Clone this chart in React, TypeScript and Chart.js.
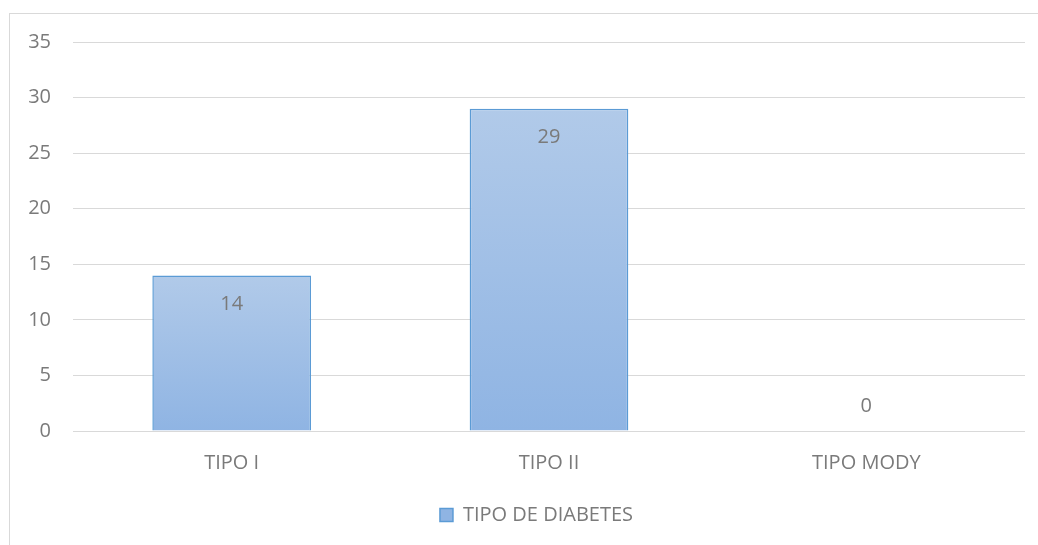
import React, { useEffect, useRef } from "react";
import { Chart, registerables } from "chart.js";

Chart.register(...registerables);

const categories = ["TIPO I", "TIPO II", "TIPO MODY"];
const seriesName = "TIPO DE DIABETES";
const values = [14, 29, 0];
const yTicks = [0, 5, 10, 15, 20, 25, 30, 35];

const FONT = "'Open Sans', 'Liberation Sans', sans-serif";
const TEXT = "#7a7a7a";
const FS = 20;

const frame = {
  id: "frame",
  beforeDraw(chart: any) {
    const c = chart.ctx;
    c.save();
    c.fillStyle = "#ffffff";
    c.fillRect(0, 0, chart.width, chart.height);
    c.strokeStyle = "#d9d9d9";
    c.lineWidth = 1;
    c.strokeRect(9.5, 13.5, 3000, 3000);
    c.restore();
  },
  afterLayout(chart: any) {
    const lg = chart.legend;
    if (lg) {
      lg.left += 24;
      lg.right += 24;
    }
  },
};

const labels = {
  id: "labels",
  afterDatasetsDraw(chart: any) {
    const c = chart.ctx;
    const meta = chart.getDatasetMeta(0);
    c.save();
    c.font = `${FS}px ${FONT}`;
    c.fillStyle = TEXT;
    c.textAlign = "center";
    c.textBaseline = "middle";
    meta.data.forEach((el: any, i: number) => {
      const v = values[i];
      const y = v > 0 ? el.y + 29 : el.base - 25;
      c.fillText(String(v), el.x, y);
    });
    c.restore();
  },
};

export default function App() {
  const ref = useRef<HTMLCanvasElement>(null);
  useEffect(() => {
    document.body.style.margin = "0";
    const chart = new Chart(ref.current!, {
      type: "bar",
      data: {
        labels: categories,
        datasets: [
          {
            label: seriesName,
            data: values,
            backgroundColor: (ctx: any) => {
              const ch = ctx.chart;
              const ys = ch.scales && ch.scales.y;
              if (ctx.raw === undefined || !ys || !ch.chartArea) return "#a3c1e6";
              const top = ys.getPixelForValue(ctx.raw);
              const base = ys.getPixelForValue(0);
              if (!isFinite(top) || !isFinite(base) || top === base) return "#a3c1e6";
              const g = ch.ctx.createLinearGradient(0, top, 0, base);
              g.addColorStop(0, "#b1cae9");
              g.addColorStop(1, "#8fb4e3");
              return g;
            },
            borderColor: "#5b9bd5",
            borderWidth: 1.5,
            categoryPercentage: 1,
            barPercentage: 0.5,
          },
        ],
      },
      options: {
        animation: false,
        responsive: false,
        layout: { padding: { left: 0, right: 13, top: 42, bottom: 10 } },
        scales: {
          x: {
            grid: { display: false, drawTicks: false },
            border: { display: false },
            ticks: { color: TEXT, font: { family: FONT, size: FS }, padding: 20 },
            afterFit: (s: any) => { s.height = 64; },
          },
          y: {
            min: 0,
            max: 35,
            afterBuildTicks: (s: any) => { s.ticks = yTicks.map((v) => ({ value: v })); },
            grid: { color: "#d9d9d9", lineWidth: 1, drawTicks: false },
            border: { display: false },
            ticks: { color: TEXT, font: { family: FONT, size: FS }, padding: 22 },
            afterFit: (s: any) => { s.width = 73; },
          },
        },
        plugins: {
          legend: {
            position: "bottom",
            labels: {
              color: TEXT,
              font: { family: FONT, size: FS },
              boxWidth: 13,
              boxHeight: 13,
              padding: 10,
            },
          },
          tooltip: { enabled: false },
        },
      },
      plugins: [frame, labels],
    });
    return () => chart.destroy();
  }, []);
  return <canvas ref={ref} width={1038} height={545} style={{ display: "block" }} />;
}
